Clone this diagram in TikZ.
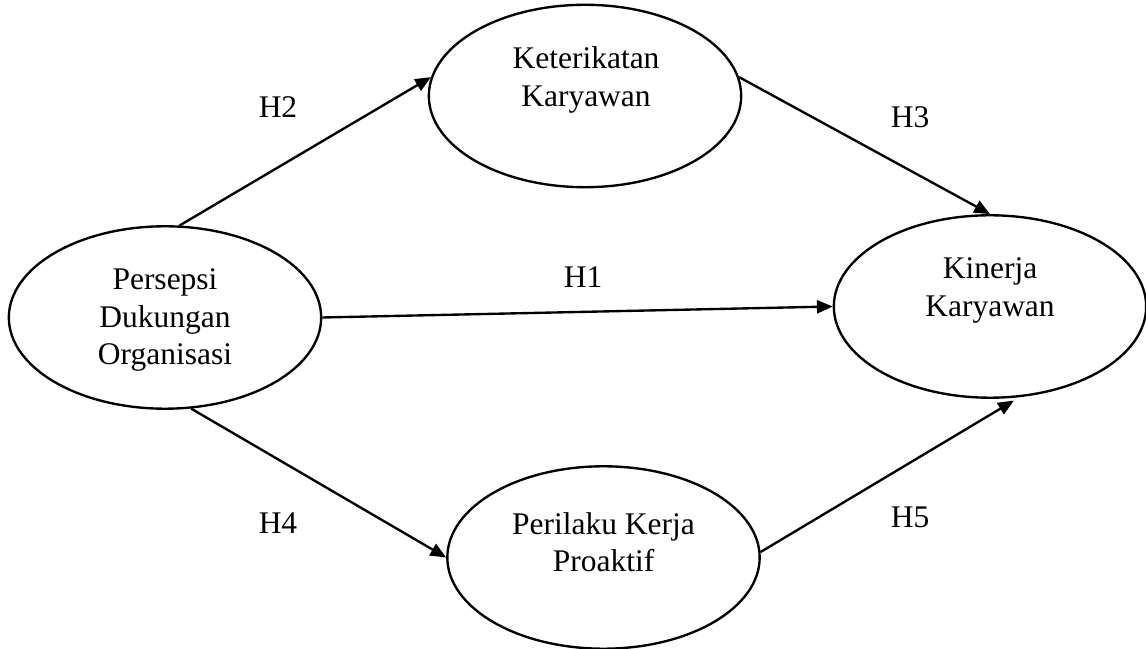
\documentclass[tikz,border=0pt]{standalone}
\usepackage{fontspec}
\setmainfont{Liberation Serif}
\usetikzlibrary{shapes.geometric,arrows.meta}
\begin{document}
\begin{tikzpicture}
    [x=0.381pt, y=-0.381pt,
     every node/.style={font=\fontsize{12pt}{14.3pt}\selectfont, align=center},
     construct/.style={draw, ellipse, line width=0.9pt, minimum width=119pt, minimum height=69.5pt, inner sep=0pt},
     hyp/.style={-{Triangle[length=6pt,width=5pt]}, line width=0.9pt}]
    \useasboundingbox (0,0) rectangle (1146,649);
    % constructs
    \node[construct] (pdo) at (165,317.5) {};
    \node[construct] (ket) at (585,96) {};
    \node[construct] (kin) at (990,306.5) {};
    \node[construct] (ppk) at (603.5,557.5) {};
    \node (pdoText) at (165,320) {Persepsi\\Dukungan\\Organisasi};
    \node (ketText) at (586,80) {Keterikatan\\Karyawan};
    \node (kinText) at (990,290.5) {Kinerja\\Karyawan};
    \node (ppkText) at (603.5,542) {Perilaku Kerja\\Proaktif};
    % hypotheses
    \draw[hyp] (pdo.east) -- (kin.west);
    \draw[hyp] (pdo.81) -- (ket.173);
    \draw[hyp] (ket.7) -- (kin.north);
    \draw[hyp] (pdo.286) -- (ppk.west);
    \draw[hyp, shorten >=2.5pt] (ppk.2) -- (kin.288);
    \node (h1) at (583,277) {H1};
    \node (h2) at (278,107) {H2};
    \node (h3) at (910,117) {H3};
    \node (h4) at (278,523) {H4};
    \node (h5) at (910,517) {H5};
\end{tikzpicture}
\end{document}
